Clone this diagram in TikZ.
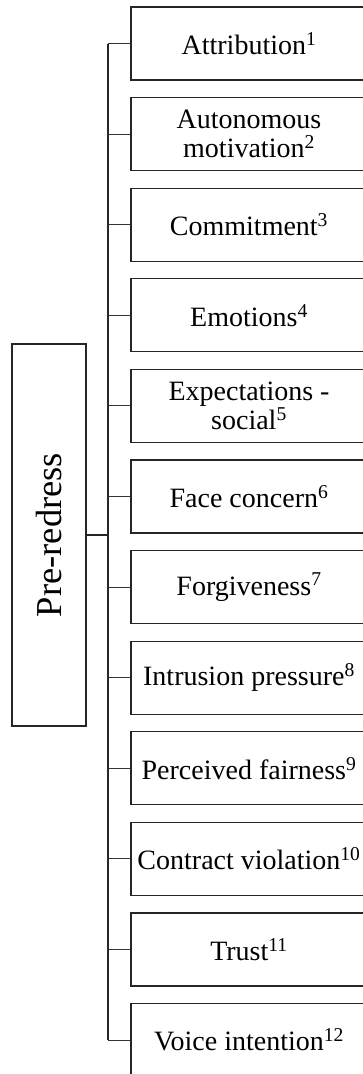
\documentclass[tikz,border=0pt]{standalone}
\usepackage{fontspec}
\setmainfont{Liberation Serif}
\begin{document}
\begin{tikzpicture}[x=1pt,y=-1pt,
  item/.style={draw=black!85,line width=1.2pt,minimum width=236pt,minimum height=73pt,
    inner sep=0pt,align=center,font=\fontsize{28}{28.5}\selectfont,text=black},
  root/.style={draw=black!85,line width=1.2pt,minimum width=74pt,minimum height=382pt,
    inner sep=0pt},
  link/.style={draw=black!80,line width=1.1pt},
  spine/.style={draw=black!85,line width=1.6pt}]
\clip (0,0) rectangle (363,1074);
\fill[white] (0,0) rectangle (363,1074);

% category box with rotated label
\node[root] (p) at (49,535) {};
\node[rotate=90,font=\fontsize{36.5}{36.5}\selectfont,text=black] (pl) at (p.center) {Pre-redress};

% factor boxes
\foreach \i/\t in {
  1/{Attribution\textsuperscript{1}},
  2/{Autonomous\\motivation\textsuperscript{2}},
  3/{Commitment\textsuperscript{3}},
  4/{Emotions\textsuperscript{4}},
  5/{Expectations -\\social\textsuperscript{5}},
  6/{Face concern\textsuperscript{6}},
  7/{Forgiveness\textsuperscript{7}},
  8/{Intrusion pressure\textsuperscript{8}},
  9/{Perceived fairness\textsuperscript{9}},
  10/{Contract violation\textsuperscript{10}},
  11/{Trust\textsuperscript{11}},
  12/{Voice intention\textsuperscript{12}}}
  \node[item] (b\i) at (249,{7+90.6*(\i-1)+36.5}) {\t};

% tree connectors
\coordinate (t) at (108,0);
\draw[spine] (b1.west -| t) -- (b12.west -| t);
\draw[spine] (p.east) -- (p.east -| t);
\foreach \i in {1,...,12}
  \draw[link] (b\i.west) -- (b\i.west -| t);
\end{tikzpicture}
\end{document}
